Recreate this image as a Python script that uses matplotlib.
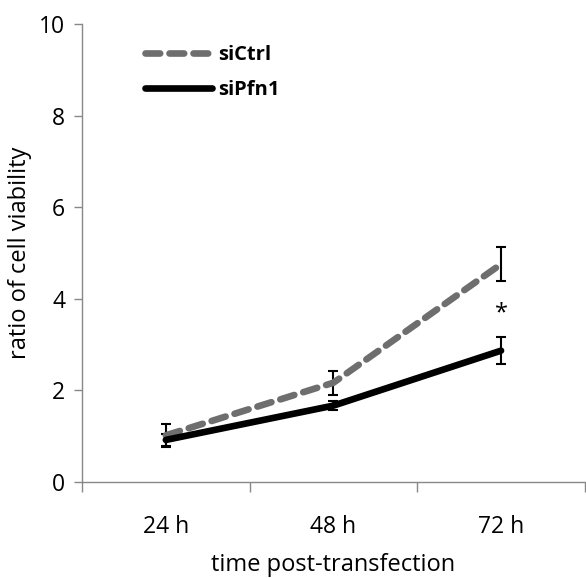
import matplotlib
matplotlib.use("Agg")
import matplotlib.pyplot as plt
import numpy as np
from matplotlib.lines import Line2D

categories = ["24 h", "48 h", "72 h"]
siCtrl = [1.02, 2.17, 4.76]
siCtrl_err = [0.25, 0.26, 0.37]
siPfn1 = [0.92, 1.67, 2.87]
siPfn1_err = [0.13, 0.10, 0.30]
yticks = [0, 2, 4, 6, 8, 10]

plt.rcParams['font.family'] = ['Open Sans', 'DejaVu Sans']

fig = plt.figure(figsize=(5.86, 5.78), dpi=100)
ax = fig.add_axes([0.14, 0.166, 0.858, 0.792])
x = np.arange(len(categories))

dash = (0, (2.2, 1.4))
ax.errorbar(x, siCtrl, yerr=siCtrl_err, color='#6e6e6e', lw=4.8, ls=dash,
            ecolor='black', elinewidth=1.5, capsize=3.5, capthick=1.5,
            dash_capstyle='round', solid_capstyle='round')
ax.errorbar(x, siPfn1, yerr=siPfn1_err, color='black', lw=4.8,
            ecolor='black', elinewidth=1.5, capsize=3.5, capthick=1.5,
            solid_capstyle='round')

ax.text(x[2], 3.69, '*', ha='center', va='center', fontsize=17)

ax.set_xlim(-0.5, 2.5)
ax.set_ylim(0, 10)
ax.set_yticks(yticks)
ax.set_xticks(x)
ax.set_xticklabels(categories)
ax.set_xticks([-0.5, 0.5, 1.5, 2.5], minor=True)
ax.tick_params(axis='x', which='major', length=0, pad=24, labelsize=16.5)
ax.tick_params(axis='x', which='minor', length=7, color='#888888', width=1)
ax.tick_params(axis='y', length=6, color='#888888', width=1, labelsize=16.5, pad=6)
for s in ['top', 'right']:
    ax.spines[s].set_visible(False)
for s in ['left', 'bottom']:
    ax.spines[s].set_color('#888888')
    ax.spines[s].set_linewidth(1)

ax.set_xlabel('time post-transfection', fontsize=17, labelpad=10)
ax.set_ylabel('ratio of cell viability', fontsize=17, labelpad=5)

h = [Line2D([], [], color='#6e6e6e', lw=4.8, ls=dash, dash_capstyle='round'),
     Line2D([], [], color='black', lw=4.8, solid_capstyle='round')]
ax.legend(h, ['siCtrl', 'siPfn1'], loc='upper left', bbox_to_anchor=(0.09, 0.995),
          frameon=False, handlelength=3.3, handletextpad=0.3, labelspacing=0.75,
          prop={'weight': 'bold', 'size': 14.5})

fig.savefig('out.png', dpi=100)
